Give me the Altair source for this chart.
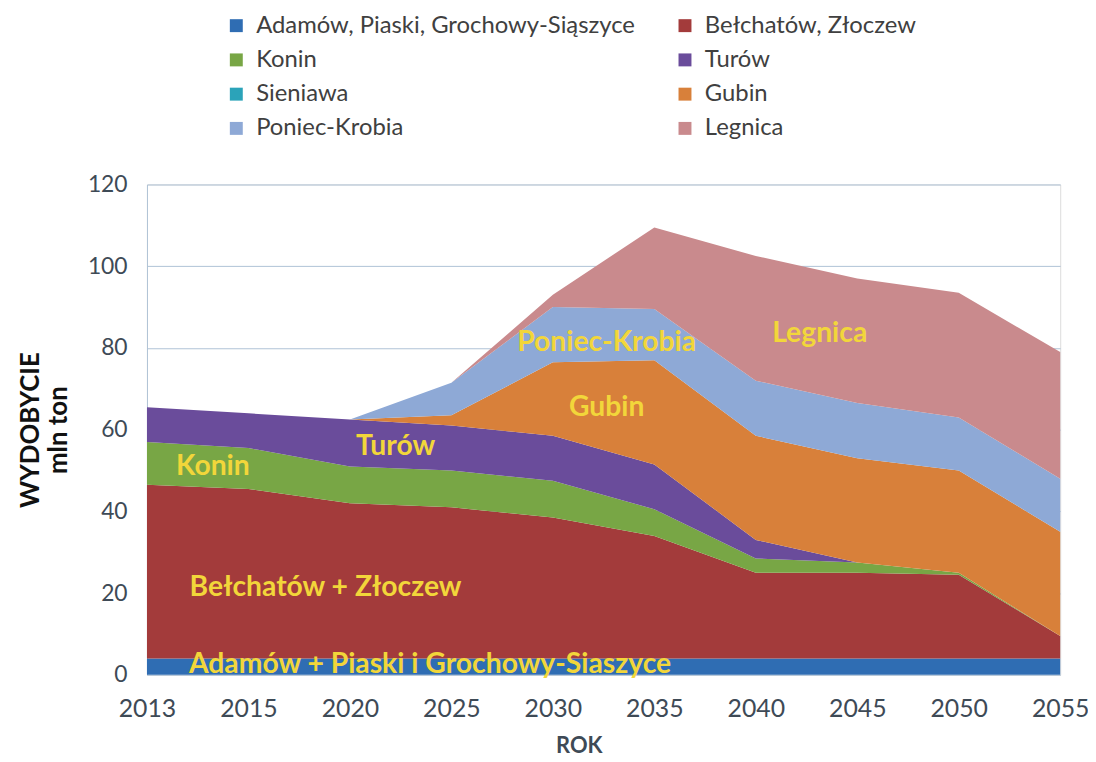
import altair as alt
import pandas as pd

years = ["2013", "2015", "2020", "2025", "2030", "2035", "2040", "2045", "2050", "2055"]
series = ["Adamów, Piaski, Grochowy-Siąszyce", "Bełchatów, Złoczew", "Konin", "Turów",
          "Sieniawa", "Gubin", "Poniec-Krobia", "Legnica"]
adamow = [4, 4, 4, 4, 4, 4, 4, 4, 4, 4]
belchatow = [42.5, 41.5, 38, 37, 34.5, 30, 21, 21, 20.5, 5.5]
konin = [10.5, 10, 9, 9, 9, 6.5, 3.5, 2.5, 0.5, 0]
turow = [8.5, 8.5, 11.5, 11, 11, 11, 4.5, 0, 0, 0]
sieniawa = [0, 0, 0, 0, 0, 0, 0, 0, 0, 0]
gubin = [0, 0, 0, 2.5, 18, 25.5, 25.5, 25.5, 25, 25.5]
poniec = [0, 0, 0, 8, 13.5, 12.5, 13.5, 13.5, 13, 13]
legnica = [0, 0, 0, 0, 3, 20, 30.5, 30.5, 30.5, 31]
colors = ["#2F6DB3", "#A33B3B", "#78A645", "#6A4C9B", "#2BA3B9", "#D8803A", "#8EA9D6", "#C98A8D"]

ann_text = ["Konin", "Turów", "Gubin", "Poniec-Krobia", "Legnica",
            "Bełchatów + Złoczew", "Adamów + Piaski i Grochowy-Siaszyce"]
ann_x = [0.65, 2.45, 4.53, 4.53, 6.63, 1.76, 2.79]
ann_y = [51.2, 56.1, 65.6, 81.4, 83.6, 21.6, 2.7]

values = [adamow, belchatow, konin, turow, sieniawa, gubin, poniec, legnica]
rows = []
for si, (name, vals) in enumerate(zip(series, values)):
    for xi, v in enumerate(vals):
        rows.append({"series": name, "order": si, "xi": xi, "year": years[xi], "value": v})
df = pd.DataFrame(rows)
ann = pd.DataFrame({"text": ann_text, "xi": ann_x, "y": ann_y})

# legend is filled column by column, so list it in the order that reads row by row
leg_idx = [0, 2, 4, 6, 1, 3, 5, 7]
leg_domain = [series[i] for i in leg_idx]
leg_range = [colors[i] for i in leg_idx]

FONT = "Lato"
TXT = "#3E4A56"
label_expr = "[" + ",".join("'%s'" % y for y in years) + "][datum.value]"

x_enc = alt.X("xi:Q", scale=alt.Scale(domain=[0, len(years) - 1], nice=False, zero=False),
              axis=alt.Axis(values=list(range(len(years))), labelExpr=label_expr, grid=False,
                            ticks=False, domain=False, title="ROK", labelFontSize=25,
                            labelFlush=False, labelOverlap=False,
                            labelPadding=22, labelColor=TXT, labelFont=FONT,
                            titleFont=FONT, titleFontSize=22, titleFontWeight="bold",
                            titleColor=TXT, titlePadding=14, titleX=435))
y_enc = alt.Y("value:Q", stack="zero", scale=alt.Scale(domain=[0, 120], nice=False),
              axis=alt.Axis(values=list(range(0, 121, 20)), grid=True, gridColor="#AFC3D6",
                            domainColor="#AFC3D6", ticks=False, labelFontSize=23,
                            labelColor=TXT, labelFont=FONT, labelPadding=20,
                            title=["WYDOBYCIE", "mln ton"], titleFont=FONT, titleFontSize=26,
                            titleFontWeight="bold", titleColor="#111111", titlePadding=16))

areas = alt.Chart(df).mark_area(interpolate="linear", strokeWidth=0, opacity=1).encode(
    x=x_enc,
    y=y_enc,
    color=alt.Color("series:N", scale=alt.Scale(domain=leg_domain, range=leg_range),
                    legend=alt.Legend(title=None, orient="none", legendX=78, legendY=-172,
                                      columns=2, columnPadding=38, rowPadding=10.5,
                                      labelFontSize=24, labelFont=FONT, labelColor="#404040",
                                      labelLimit=0, symbolType="square", symbolSize=170,
                                      symbolStrokeWidth=0, labelOffset=8)),
    order=alt.Order("order:Q", sort="ascending"),
)

labels = alt.Chart(ann).mark_text(font=FONT, fontSize=28.5, fontWeight="bold",
                                  color="#F2D63A", align="center", baseline="middle").encode(
    x=alt.X("xi:Q"), y=alt.Y("y:Q"), text="text:N")

chart = alt.layer(areas, labels).properties(
    width=920, height=494,
    autosize=alt.AutoSizeParams(type="none"),
    padding={"left": 140, "top": 175, "right": 28, "bottom": 84},
).configure_view(stroke=None).configure(background="white")

chart.save("out.html", embed_options={"renderer": "svg", "actions": False})
